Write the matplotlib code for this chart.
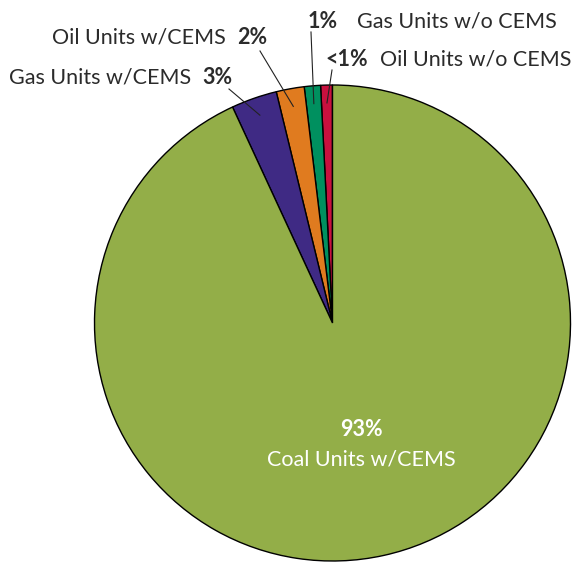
import matplotlib.pyplot as plt
import numpy as np

# slice data, counter-clockwise from 12 o'clock
names = ["Oil Units w/o CEMS", "Gas Units w/o CEMS", "Oil Units w/CEMS",
         "Gas Units w/CEMS", "Coal Units w/CEMS"]
shares = [0.8, 1.1, 1.9, 3.1, 93.1]
pct_labels = ["<1%", "1%", "2%", "3%", "93%"]
colors = ["#C8103E", "#00905F", "#E07B1F", "#3F2A84", "#93AE48"]

W, H = 574, 565
CX, CY, R = 332.5, 323, 238


def px(x, y):
    # pixel position -> data coords (pie radius 1)
    return (x - CX) / R, (CY - y) / R


fig = plt.figure(figsize=(W / 100, H / 100), dpi=100)
ax = fig.add_axes([0, 0, 1, 1])
ax.axis("off")

wedges, _ = ax.pie(shares, colors=colors, startangle=90, counterclock=True,
                   radius=1, wedgeprops=dict(edgecolor="black", linewidth=1))
ax.set_xlim(-CX / R, (W - CX) / R)
ax.set_ylim(-(H - CY) / R, CY / R)
ax.set_aspect("auto")

plt.rcParams["font.family"] = ["Lato", "DejaVu Sans"]
txt = "#2b2b2b"
fs = 15.5

# leader line tops and label positions (pixels)
line_tops = [(332, 70), (311, 32), (260, 51), (229, 89)]
label_specs = [
    # (pct x, pct align, name x, name align, y)
    (325, "left", 380, "left", 59),
    (308, "left", 357, "left", 21),
    (237, "left", 226, "right", 37),
    (202, "left", 191, "right", 77),
]

for i in range(4):
    w = wedges[i]
    mid = np.deg2rad((w.theta1 + w.theta2) / 2)
    ax_, ay_ = 0.925 * np.cos(mid), 0.925 * np.sin(mid)
    tx, ty = px(*line_tops[i])
    ax.plot([tx, ax_], [ty, ay_], color="#222222", lw=0.8)
    pxp, pal, nxp, nal, yy = label_specs[i]
    ax.text(*px(pxp, yy), pct_labels[i], ha=pal, va="center", fontsize=fs,
            fontweight="bold", color=txt)
    ax.text(*px(nxp, yy), names[i], ha=nal, va="center", fontsize=fs, color=txt)

ax.text(*px(361, 429), pct_labels[4], ha="center", va="center", fontsize=fs,
        fontweight="bold", color="white")
ax.text(*px(361, 460), names[4], ha="center", va="center", fontsize=fs,
        color="white")

fig.savefig("out.png", dpi=100)
